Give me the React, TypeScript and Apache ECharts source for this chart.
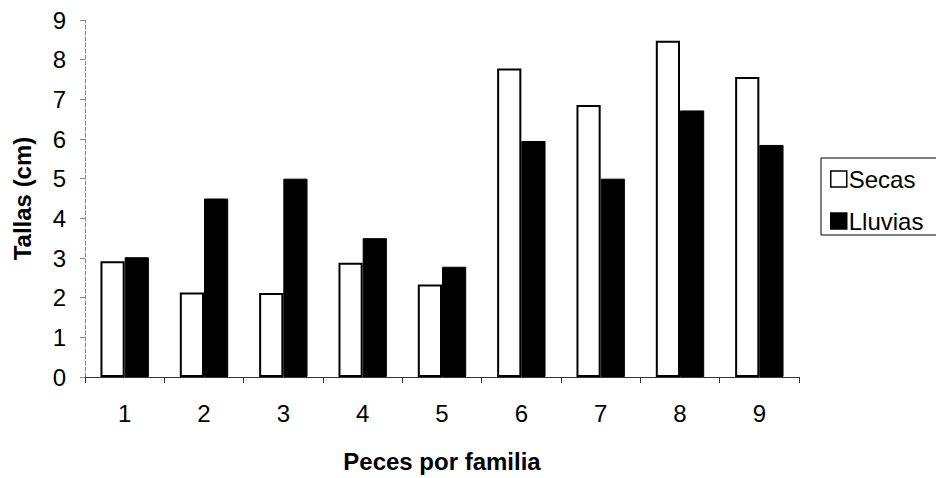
import React, { useEffect, useRef } from "react";
import * as echarts from "echarts";

const categories = ["1", "2", "3", "4", "5", "6", "7", "8", "9"];
const secas = [2.92, 2.13, 2.12, 2.88, 2.33, 7.78, 6.86, 8.48, 7.56];
const lluvias = [3.02, 4.5, 5.0, 3.5, 2.78, 5.95, 5.0, 6.72, 5.85];

const FONT = "'Liberation Sans', Arial, sans-serif";

export default function App() {
  const ref = useRef<HTMLDivElement>(null);

  useEffect(() => {
    document.body.style.margin = "0";
    if (!ref.current) return;
    const chart = echarts.init(ref.current, null, { renderer: "svg" });
    chart.setOption({
      animation: false,
      backgroundColor: "#ffffff",
      textStyle: { fontFamily: FONT, color: "#000" },
      grid: { left: 85, right: 137, top: 20, bottom: 99 },
      legend: {
        orient: "vertical",
        left: 821,
        top: 158,
        padding: [9, 20, 2, 9],
        itemGap: 18,
        itemWidth: 16,
        itemHeight: 16,
        borderColor: "#000",
        borderWidth: 1,
        textStyle: { fontFamily: FONT, fontSize: 24, color: "#000", padding: [0, 0, 0, -3] },
        data: [
          { name: "Secas", icon: "rect", itemStyle: { color: "#fff", borderColor: "#000", borderWidth: 1.5 } },
          { name: "Lluvias", icon: "rect", itemStyle: { color: "#000", borderColor: "#000", borderWidth: 1.5 } },
        ],
      },
      xAxis: {
        type: "category",
        data: categories,
        name: "Peces por familia",
        nameLocation: "middle",
        nameGap: 72,
        nameTextStyle: { fontFamily: FONT, fontSize: 24, fontWeight: "bold", color: "#000" },
        axisLine: { lineStyle: { color: "#333", width: 1 } },
        axisTick: { show: true, length: 6, lineStyle: { color: "#333" } },
        axisLabel: { fontFamily: FONT, fontSize: 24, color: "#000", margin: 24 },
      },
      yAxis: {
        type: "value",
        min: 0,
        max: 9,
        interval: 1,
        name: "Tallas (cm)",
        nameLocation: "middle",
        nameGap: 51,
        nameTextStyle: { fontFamily: FONT, fontSize: 24, fontWeight: "bold", color: "#000" },
        axisLine: { show: true, lineStyle: { color: "#888", width: 1, type: "dashed" } },
        axisTick: { show: true, length: 5, lineStyle: { color: "#888" } },
        axisLabel: { fontFamily: FONT, fontSize: 24, color: "#000", margin: 19 },
        splitLine: { show: false },
      },
      series: [
        {
          name: "Secas",
          type: "bar",
          data: secas,
          barGap: "0%",
          barCategoryGap: "39%",
          itemStyle: { color: "#fff", borderColor: "#000", borderWidth: 2 },
        },
        {
          name: "Lluvias",
          type: "bar",
          data: lluvias,
          barGap: "0%",
          barCategoryGap: "39%",
          itemStyle: { color: "#000", borderColor: "#000", borderWidth: 1 },
        },
      ],
    });
    return () => chart.dispose();
  }, []);

  return <div ref={ref} style={{ width: 936, height: 478 }} />;
}
